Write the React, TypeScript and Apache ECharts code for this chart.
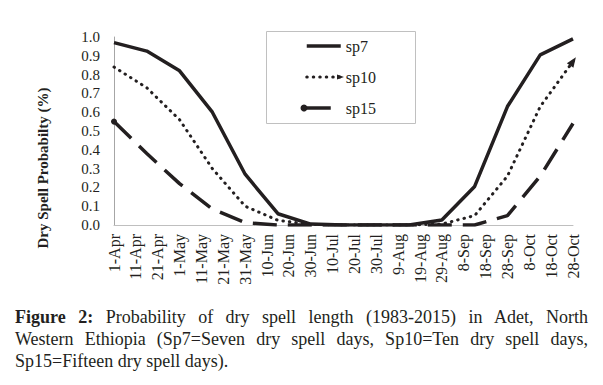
import React, { useEffect, useRef } from 'react';
import * as echarts from 'echarts';

const tickLabels = ['1-Apr', '11-Apr', '21-Apr', '1-May', '11-May', '21-May', '31-May', '10-Jun', '20-Jun', '30-Jun', '10-Jul', '20-Jul', '30-Jul', '9-Aug', '19-Aug', '29-Aug', '8-Sep', '18-Sep', '28-Sep', '8-Oct', '18-Oct', '28-Oct'];
// days since 1-Apr of each observation
const dayOffsets = [0, 15, 30, 45, 60, 75, 90, 105, 120, 135, 150, 165, 180, 195, 210];
const sp7 = [0.97, 0.925, 0.82, 0.6, 0.27, 0.06, 0.005, 0, 0, 0, 0.027, 0.205, 0.63, 0.905, 0.99];
const sp10 = [0.84, 0.73, 0.56, 0.3, 0.1, 0.025, 0.003, 0, 0, 0, 0.005, 0.05, 0.26, 0.63, 0.87];
const sp15 = [0.55, 0.38, 0.22, 0.085, 0.012, 0, 0, 0, 0, 0, 0, 0, 0.05, 0.26, 0.54];
const seriesNames = ['sp7', 'sp10', 'sp15'];
const yTitle = 'Dry Spell Probabilty (%)';
const captionBold = 'Figure 2:';
const captionLines = [
  ' Probability of dry spell length (1983-2015) in Adet, North',
  'Western Ethiopia (Sp7=Seven dry spell days, Sp10=Ten dry spell days,',
  'Sp15=Fifteen dry spell days).',
];

const SERIF = '"Liberation Serif", "DejaVu Serif", "Noto Serif", serif';
const INK = '#231f20';

export default function App() {
  const ref = useRef<HTMLDivElement>(null);
  useEffect(() => {
    if (!ref.current) return;
    const chart = echarts.init(ref.current, null, { renderer: 'svg' });
    const pairs = (vals: number[]) => dayOffsets.map((d, i) => [d, vals[i]]);
    const sp10Data: any[] = pairs(sp10);
    const last = sp10Data.length - 1;
    sp10Data[last] = { value: sp10Data[last], symbol: 'triangle', symbolSize: [8, 10], symbolRotate: -35 };
    const sp15Data: any[] = pairs(sp15);
    sp15Data[0] = { value: sp15Data[0], symbol: 'circle', symbolSize: 6 };

    chart.setOption({
      animation: false,
      textStyle: { fontFamily: SERIF },
      grid: { left: 114, right: 30, top: 37, bottom: 160, containLabel: false },
      legend: {
        left: 305,
        top: 38,
        orient: 'vertical',
        itemWidth: 34,
        itemHeight: 16,
        itemGap: 15,
        padding: 0,
        itemStyle: { opacity: 0 },
        lineStyle: { width: 'inherit' },
        textStyle: { fontFamily: SERIF, fontSize: 16, lineHeight: 16, color: INK },
        data: seriesNames,
      },
      xAxis: {
        type: 'value',
        min: 0,
        max: 210,
        interval: 10,
        axisLine: { show: true, lineStyle: { color: '#bfbfbf', width: 1 } },
        axisTick: { show: false },
        splitLine: { show: false },
        axisLabel: {
          rotate: 90,
          margin: 9,
          fontSize: 16,
          color: INK,
          fontFamily: SERIF,
          formatter: (v: number) => tickLabels[Math.round(v / 10)] ?? '',
        },
      },
      yAxis: {
        type: 'value',
        min: 0,
        max: 1,
        interval: 0.1,
        axisLine: { show: true, lineStyle: { color: '#a6a6a6', width: 1 } },
        axisTick: { show: false },
        splitLine: { show: false },
        axisLabel: {
          margin: 14,
          fontSize: 15,
          color: INK,
          fontFamily: SERIF,
          formatter: (v: number) => v.toFixed(1),
        },
      },
      graphic: [
        {
          type: 'rect',
          z: 1,
          shape: { x: 266.5, y: 31.5, width: 149, height: 92 },
          style: { fill: '#fff', stroke: '#c0c0c0', lineWidth: 1 },
        },
        {
          type: 'circle',
          z: 10,
          shape: { cx: 304, cy: 108, r: 3.5 },
          style: { fill: INK },
        },
        {
          type: 'polygon',
          z: 10,
          shape: { points: [[337, 74.5], [344, 77], [337, 79.5]] },
          style: { fill: INK },
        },
        {
          type: 'text',
          x: 43,
          y: 168,
          rotation: Math.PI / 2,
          style: {
            text: yTitle,
            fontFamily: SERIF,
            fontSize: 15,
            fontWeight: 'bold',
            fill: INK,
            align: 'center',
            verticalAlign: 'middle',
          },
        },
      ],
      series: [
        {
          name: 'sp7',
          type: 'line',
          data: pairs(sp7),
          symbol: 'none',
          lineStyle: { color: INK, width: 3.5, type: 'solid' },
          itemStyle: { color: INK },
        },
        {
          name: 'sp10',
          type: 'line',
          data: sp10Data,
          symbol: 'none',
          showSymbol: true,
          lineStyle: { color: INK, width: 3, type: [0.5, 6], cap: 'round' },
          itemStyle: { color: INK },
        },
        {
          name: 'sp15',
          type: 'line',
          data: sp15Data,
          symbol: 'none',
          showSymbol: true,
          lineStyle: { color: INK, width: 3.5, type: [24, 11] },
          itemStyle: { color: INK },
        },
      ],
    });
    return () => chart.dispose();
  }, []);

  const lineStyle: React.CSSProperties = {
    textAlign: 'justify',
    textAlignLast: 'justify',
    whiteSpace: 'nowrap',
    height: 22,
    lineHeight: '22px',
  };

  return (
    <div style={{ position: 'fixed', left: 0, top: 0, width: 603, height: 385, background: '#fff', overflow: 'hidden' }}>
      <div ref={ref} style={{ position: 'absolute', left: 0, top: 0, width: 603, height: 385 }} />
      <div
        style={{
          position: 'absolute',
          left: 15,
          top: 306,
          width: 573,
          fontFamily: SERIF,
          fontSize: 18,
          color: INK,
        }}
      >
        <div style={lineStyle}>
          <b>{captionBold}</b>
          {captionLines[0]}
        </div>
        <div style={lineStyle}>{captionLines[1]}</div>
        <div style={{ ...lineStyle, textAlignLast: 'left' }}>{captionLines[2]}</div>
      </div>
    </div>
  );
}
